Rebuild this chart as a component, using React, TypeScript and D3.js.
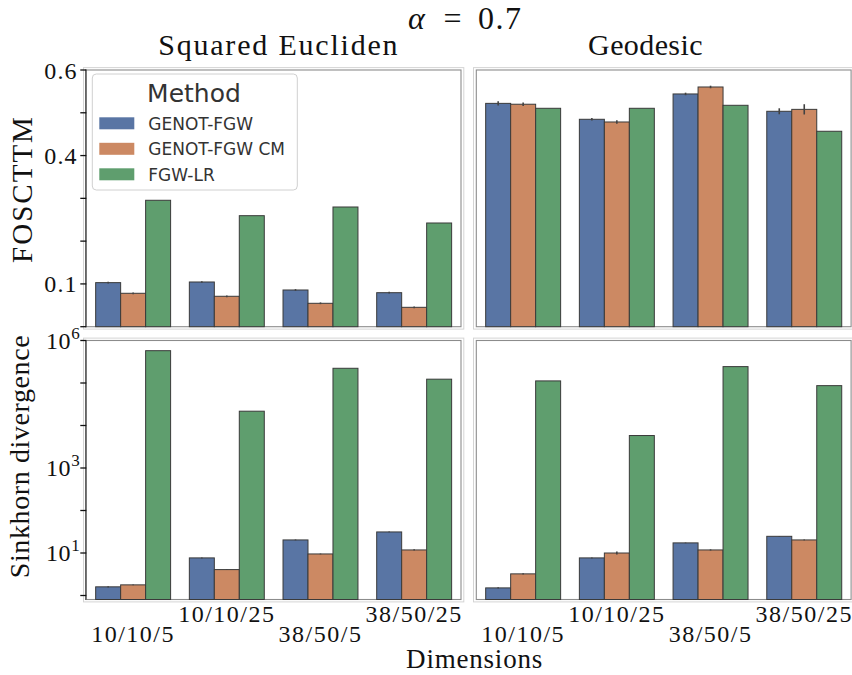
import React from "react";
import * as d3 from "d3";

const dimensions = ["10/10/5", "10/10/25", "38/50/5", "38/50/25"];
const methods = ["GENOT-FGW", "GENOT-FGW CM", "FGW-LR"];
const methodColors = ["#5975a4", "#cc8963", "#5f9e6e"];

// FOSCTTM with the squared Euclidean cost
const fosEucGenot = [0.103, 0.1045, 0.0858, 0.0795];
const fosEucGenotCM = [0.0781, 0.0711, 0.0547, 0.0453];
const fosEucLR = [0.2955, 0.2595, 0.2798, 0.2424];
const fosEucGenotErr = [0.002, 0.002, 0.002, 0.002];
const fosEucGenotCMErr = [0.002, 0.002, 0.002, 0.002];

// FOSCTTM with the geodesic cost
const fosGeoGenot = [0.522, 0.4848, 0.544, 0.5035];
const fosGeoGenotCM = [0.52, 0.4785, 0.5603, 0.508];
const fosGeoLR = [0.5105, 0.5105, 0.5175, 0.4568];
const fosGeoGenotErr = [0.005, 0.003, 0.003, 0.007];
const fosGeoGenotCMErr = [0.004, 0.004, 0.003, 0.012];

// Sinkhorn divergence with the squared Euclidean cost
const sinkEucGenot = [1.6, 7.67, 20.3, 31.3];
const sinkEucGenotCM = [1.78, 4.07, 9.5, 11.8];
const sinkEucLR = [5.76e5, 2.17e4, 2.22e5, 1.23e5];
const sinkEucGenotErr = [0.05, 0.2, 0.5, 0.6];
const sinkEucGenotCMErr = [0.04, 0.1, 0.2, 0.4];

// Sinkhorn divergence with the geodesic cost
const sinkGeoGenot = [1.51, 7.67, 17.3, 24.7];
const sinkGeoGenotCM = [3.23, 10.0, 11.8, 20.3];
const sinkGeoLR = [1.12e5, 5810, 2.43e5, 8.67e4];
const sinkGeoGenotErr = [0.05, 0.2, 0.3, 0.4];
const sinkGeoGenotCMErr = [0.1, 0.8, 0.4, 0.5];

const fosTicks = [0, 0.1, 0.2, 0.3, 0.4, 0.5, 0.6];
const fosLabelValues = [0.6, 0.4, 0.1];
const fosLabelTexts = ["0.6", "0.4", "0.1"];
const sinkTicks = [1, 10, 100, 1e3, 1e4, 1e5, 1e6];
const sinkLabelExponents = [6, 3, 1];

const SERIF = "'Liberation Serif', 'Times New Roman', serif";
const SANS = "'DejaVu Sans', sans-serif";

const TOP = { y0: 70, y1: 326.7 };
const BOTTOM = { y0: 340.5, y1: 599.5 };
const LEFT = { x0: 86.3, x1: 461 };
const RIGHT = { x0: 476.3, x1: 851.1 };

const fosScale = d3.scaleLinear().domain([0, 0.6]).range([TOP.y1, TOP.y0]);
const sinkScale = d3
  .scaleLog()
  .domain([Math.pow(10, -0.094), 1e6])
  .range([BOTTOM.y1, BOTTOM.y0]);

type PanelProps = {
  x0: number;
  x1: number;
  y0: number;
  y1: number;
  y: (v: number) => number;
  series: number[][];
  errors: (number[] | null)[];
  axis: "fos" | "sink" | null;
  xLabels: boolean;
};

function Panel({ x0, x1, y0, y1, y, series, errors, axis, xLabels }: PanelProps) {
  const xBand = d3
    .scaleBand<string>()
    .domain(dimensions)
    .range([x0, x1])
    .paddingInner(0.2)
    .paddingOuter(0.1);
  const hue = d3
    .scaleBand<string>()
    .domain(methods)
    .range([0, xBand.bandwidth()]);

  return (
    <g>
      {/* outer light frame */}
      <rect
        x={x0 - 2.8}
        y={y0 - 2.4}
        width={x1 - x0 + 5.6}
        height={y1 - y0 + 4.8}
        fill="none"
        stroke="#d4d4d4"
        strokeWidth={1}
      />
      <rect x={x0} y={y0} width={x1 - x0} height={y1 - y0} fill="#fff" stroke="#8c8c8c" strokeWidth={1.1} />

      {series.map((vals, m) =>
        vals.map((v, i) => {
          const bx = (xBand(dimensions[i]) ?? 0) + (hue(methods[m]) ?? 0);
          const top = Math.max(y(v), y0);
          return (
            <rect
              key={`b${m}-${i}`}
              x={bx}
              y={top}
              width={hue.bandwidth()}
              height={y1 - top}
              fill={methodColors[m]}
              stroke="#3a3a3a"
              strokeWidth={1}
            />
          );
        })
      )}

      {errors.map((errs, m) =>
        errs
          ? errs.map((e, i) => {
              const cx = (xBand(dimensions[i]) ?? 0) + (hue(methods[m]) ?? 0) + hue.bandwidth() / 2;
              const v = series[m][i];
              return (
                <line
                  key={`e${m}-${i}`}
                  x1={cx}
                  x2={cx}
                  y1={y(v - e)}
                  y2={y(v + e)}
                  stroke="#424242"
                  strokeWidth={1.6}
                />
              );
            })
          : null
      )}

      {axis && (
        <g>
          <line x1={x0 - 0.5} x2={x0 - 0.5} y1={y0 - 0.5} y2={y1 + 0.5} stroke="#444" strokeWidth={1.2} />
          {(axis === "fos" ? fosTicks : sinkTicks).map((t, i) => (
            <line key={`t${i}`} x1={x0 - 6} x2={x0} y1={y(t)} y2={y(t)} stroke="#111" strokeWidth={1.3} />
          ))}
          {axis === "fos" &&
            fosLabelValues.map((t, i) => (
              <text
                key={`l${i}`}
                x={x0 - 8.5}
                y={y(t) + 8.5}
                textAnchor="end"
                fontFamily={SERIF}
                fontSize={24}
                letterSpacing={1.2}
                fill="#111"
              >
                {fosLabelTexts[i]}
              </text>
            ))}
          {axis === "sink" &&
            sinkLabelExponents.map((p, i) => (
              <text
                key={`l${i}`}
                x={x0 - 6}
                y={y(Math.pow(10, p)) + 8}
                textAnchor="end"
                fontFamily={SERIF}
                fontSize={24}
                letterSpacing={0.6}
                fill="#111"
              >
                10
                <tspan fontSize={17} dy={-10}>
                  {p}
                </tspan>
              </text>
            ))}
        </g>
      )}

      {xLabels &&
        dimensions.map((d, i) => (
          <text
            key={`x${i}`}
            x={(xBand(d) ?? 0) + xBand.bandwidth() / 2}
            y={i % 2 === 0 ? 642 : 621.5}
            textAnchor="middle"
            fontFamily={SERIF}
            fontSize={24}
            letterSpacing={1.5}
            fill="#111"
          >
            {d}
          </text>
        ))}
    </g>
  );
}

export default function App() {
  return (
    <svg
      width={852}
      height={675}
      viewBox="0 0 852 675"
      style={{ position: "absolute", left: 0, top: 0, background: "#fff" }}
    >
      <rect x={0} y={0} width={852} height={675} fill="#fff" />

      {/* figure title */}
      <text x={408} y={29} fontFamily={SERIF} fontSize={32} fontStyle="italic" fill="#111">
        α
      </text>
      <text x={452.5} y={29} textAnchor="middle" fontFamily={SERIF} fontSize={32} fill="#111">
        =
      </text>
      <text x={478} y={29} fontFamily={SERIF} fontSize={32} letterSpacing={1.5} fill="#111">
        0.7
      </text>

      {/* column titles */}
      <text x={278.8} y={55} textAnchor="middle" fontFamily={SERIF} fontSize={30} letterSpacing={1.8} fill="#111">
        Squared Eucliden
      </text>
      <text x={645.5} y={55} textAnchor="middle" fontFamily={SERIF} fontSize={30} letterSpacing={0.4} fill="#111">
        Geodesic
      </text>

      <Panel
        x0={LEFT.x0}
        x1={LEFT.x1}
        y0={TOP.y0}
        y1={TOP.y1}
        y={fosScale}
        series={[fosEucGenot, fosEucGenotCM, fosEucLR]}
        errors={[fosEucGenotErr, fosEucGenotCMErr, null]}
        axis="fos"
        xLabels={false}
      />
      <Panel
        x0={RIGHT.x0}
        x1={RIGHT.x1}
        y0={TOP.y0}
        y1={TOP.y1}
        y={fosScale}
        series={[fosGeoGenot, fosGeoGenotCM, fosGeoLR]}
        errors={[fosGeoGenotErr, fosGeoGenotCMErr, null]}
        axis={null}
        xLabels={false}
      />
      <Panel
        x0={LEFT.x0}
        x1={LEFT.x1}
        y0={BOTTOM.y0}
        y1={BOTTOM.y1}
        y={sinkScale}
        series={[sinkEucGenot, sinkEucGenotCM, sinkEucLR]}
        errors={[sinkEucGenotErr, sinkEucGenotCMErr, null]}
        axis="sink"
        xLabels={true}
      />
      <Panel
        x0={RIGHT.x0}
        x1={RIGHT.x1}
        y0={BOTTOM.y0}
        y1={BOTTOM.y1}
        y={sinkScale}
        series={[sinkGeoGenot, sinkGeoGenotCM, sinkGeoLR]}
        errors={[sinkGeoGenotErr, sinkGeoGenotCMErr, null]}
        axis={null}
        xLabels={true}
      />

      {/* legend */}
      <g>
        <rect
          x={92.3}
          y={74}
          width={205}
          height={116}
          rx={4}
          fill="#fff"
          fillOpacity={0.85}
          stroke="#d0d0d0"
          strokeWidth={1}
        />
        <text x={194} y={101.7} textAnchor="middle" fontFamily={SANS} fontSize={25} fill="#333">
          Method
        </text>
        {methods.map((m, i) => (
          <g key={m}>
            <rect x={99.3} y={117.3 + i * 25.5} width={35} height={12} fill={methodColors[i]} />
            <text x={148.3} y={129.5 + i * 25.5} fontFamily={SANS} fontSize={17} fill="#333">
              {m}
            </text>
          </g>
        ))}
      </g>

      {/* axis labels */}
      <text
        transform="translate(32,189) rotate(-90)"
        textAnchor="middle"
        fontFamily={SERIF}
        fontSize={29}
        letterSpacing={2}
        fill="#111"
      >
        FOSCTTM
      </text>
      <text
        transform="translate(29,456.5) rotate(-90)"
        textAnchor="middle"
        fontFamily={SERIF}
        fontSize={28}
        letterSpacing={0.6}
        fill="#111"
      >
        Sinkhorn divergence
      </text>
      <text x={474.6} y={668} textAnchor="middle" fontFamily={SERIF} fontSize={27} letterSpacing={0.8} fill="#111">
        Dimensions
      </text>
    </svg>
  );
}
